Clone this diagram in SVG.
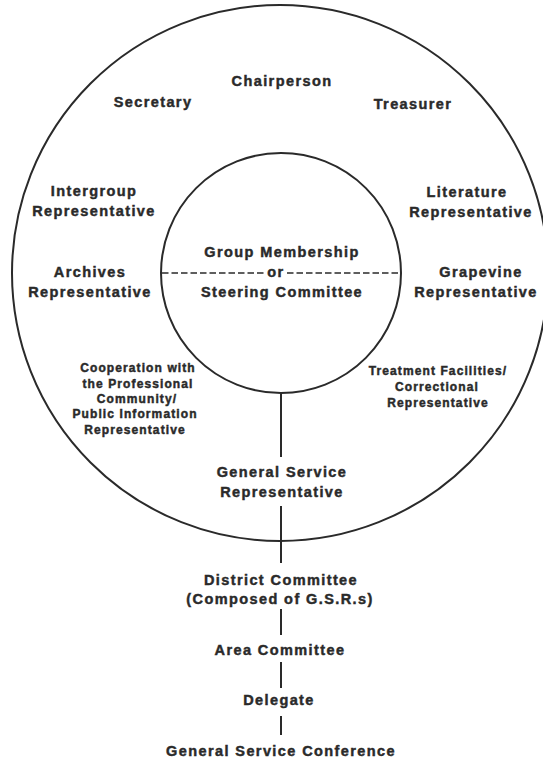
<svg xmlns="http://www.w3.org/2000/svg" width="543" height="761" viewBox="0 0 543 761">
<style>
text{font-family:"Liberation Sans",Arial,sans-serif;font-weight:bold;fill:#2a2a2a;stroke:#2a2a2a;stroke-width:0.45;text-anchor:middle}
.m{font-size:14.5px;letter-spacing:1.4px}
.s{font-size:12px;letter-spacing:1.1px}
.ring{fill:none;stroke:#2a2a2a;stroke-width:2}
.ln{stroke:#2a2a2a;stroke-width:2;fill:none}
.dash{stroke:#2a2a2a;stroke-width:1.5;stroke-dasharray:6.5 3;fill:none}
</style>
<rect width="543" height="761" fill="#ffffff"/>
<g id="outer-circle"><circle class="ring" cx="280" cy="273" r="268"/></g>
<g id="inner-circle">
<circle class="ring" cx="281" cy="273" r="120"/>
<line class="dash" x1="162" y1="273" x2="266" y2="273"/>
<line class="dash" x1="287" y1="273" x2="400" y2="273"/>
<text class="m" x="282" y="257">Group Membership</text>
<text class="m" x="276" y="277">or</text>
<text class="m" x="282" y="297">Steering Committee</text>
</g>
<g id="connectors">
<line class="ln" x1="281" y1="393" x2="281" y2="457"/>
<line class="ln" x1="281" y1="506" x2="281" y2="563"/>
<line class="ln" x1="281" y1="609" x2="281" y2="635"/>
<line class="ln" x1="281" y1="662" x2="281" y2="688"/>
<line class="ln" x1="281" y1="716" x2="281" y2="735"/>
</g>
<g id="chairperson"><text class="m" x="282" y="86">Chairperson</text></g>
<g id="secretary"><text class="m" x="153" y="107">Secretary</text></g>
<g id="treasurer"><text class="m" x="413" y="109">Treasurer</text></g>
<g id="intergroup"><text class="m" x="94" y="196">Intergroup</text><text class="m" x="94" y="216">Representative</text></g>
<g id="archives"><text class="m" x="90" y="277">Archives</text><text class="m" x="90" y="297">Representative</text></g>
<g id="literature"><text class="m" x="467" y="197">Literature</text><text class="m" x="471" y="217">Representative</text></g>
<g id="grapevine"><text class="m" x="481" y="277">Grapevine</text><text class="m" x="476" y="297">Representative</text></g>
<g id="cpc-pi">
<text class="s" x="138" y="372">Cooperation with</text>
<text class="s" x="138" y="388">the Professional</text>
<text class="s" x="137" y="403">Community/</text>
<text class="s" x="135" y="418">Public Information</text>
<text class="s" x="135" y="434">Representative</text>
</g>
<g id="treatment">
<text class="s" x="438" y="375">Treatment Facilities/</text>
<text class="s" x="437" y="391">Correctional</text>
<text class="s" x="438" y="407">Representative</text>
</g>
<g id="gsr"><text class="m" x="282" y="477">General Service</text><text class="m" x="282" y="497">Representative</text></g>
<g id="district"><text class="m" x="281" y="585">District Committee</text><text class="m" x="280" y="604">(Composed of G.S.R.s)</text></g>
<g id="area"><text class="m" x="280" y="655">Area Committee</text></g>
<g id="delegate"><text class="m" x="279" y="705">Delegate</text></g>
<g id="conference"><text class="m" x="281" y="756">General Service Conference</text></g>
</svg>
